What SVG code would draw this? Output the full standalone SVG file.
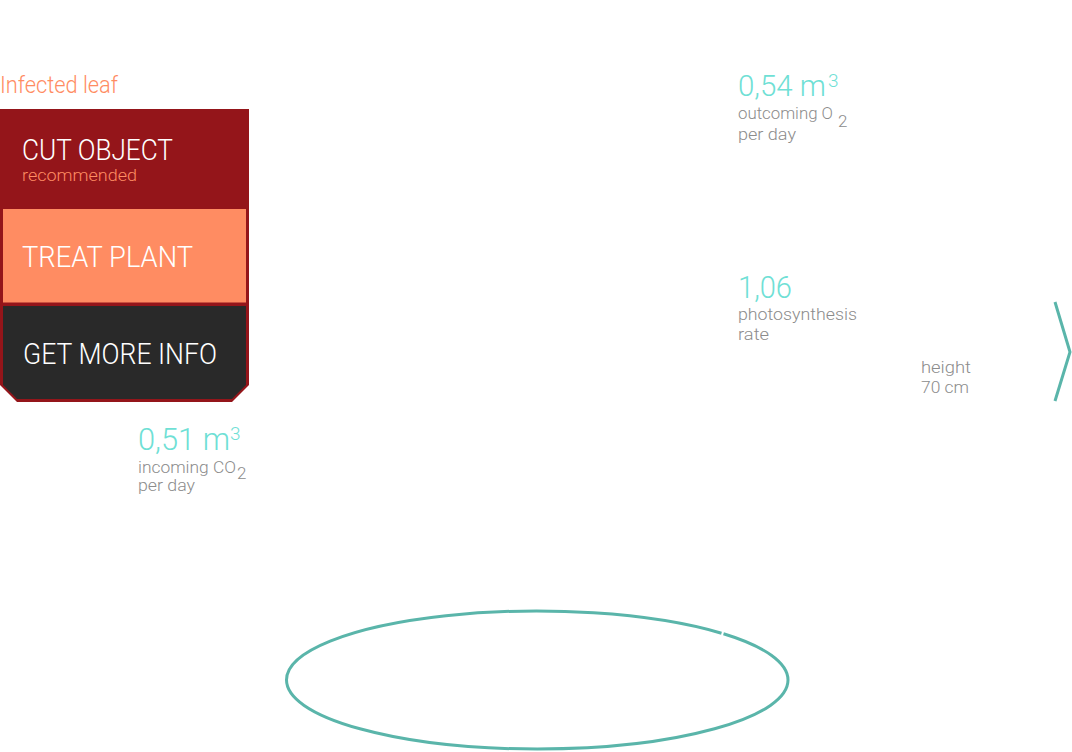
<svg xmlns="http://www.w3.org/2000/svg" width="1072" height="752" viewBox="0 0 1072 752">
<style>
text{font-family:Roboto,"Liberation Sans",sans-serif;font-weight:300}
.big{fill:#6fe0d5}
.lbl{fill:#8c8c8c;font-size:17px}
.btn{fill:#ffffff;font-size:29px}
.teal{fill:none;stroke:#5ab5aa;stroke-width:3}
</style>
<rect width="1072" height="752" fill="#ffffff"/>
<g id="title">
<text x="0" y="93" font-size="23" fill="#ff8c62" textLength="118" lengthAdjust="spacingAndGlyphs">Infected leaf</text>
</g>
<g id="menu">
<path d="M0,109 H249 V385 L232,402 H17 L0,385 Z" fill="#94151a"/>
<rect x="3" y="209" width="243" height="93.5" fill="#ff8c62"/>
<path d="M3,306 H246 V385 L232,399 H17 L3,385 Z" fill="#292929"/>
</g>
<g id="cut-object">
<text class="btn" x="22" y="160" textLength="151" lengthAdjust="spacingAndGlyphs">CUT OBJECT</text>
<text x="22" y="180.5" font-size="16.5" fill="#ff8c62" textLength="115" lengthAdjust="spacingAndGlyphs">recommended</text>
</g>
<g id="treat-plant">
<text class="btn" x="22" y="267" font-size="30" textLength="171" lengthAdjust="spacingAndGlyphs">TREAT PLANT</text>
</g>
<g id="get-more-info">
<text class="btn" x="23" y="364" fill="#ececec" textLength="194" lengthAdjust="spacingAndGlyphs">GET MORE INFO</text>
</g>
<g id="o2-stat">
<text class="big" x="738" y="96" font-size="30" textLength="88" lengthAdjust="spacingAndGlyphs">0,54 m</text>
<text class="big" x="828" y="87" font-size="19">3</text>
<text class="lbl" x="738" y="119" textLength="95" lengthAdjust="spacingAndGlyphs">outcoming O</text>
<text class="lbl" x="838" y="127" font-size="9">2</text>
<text class="lbl" x="738" y="140" textLength="58" lengthAdjust="spacingAndGlyphs">per day</text>
</g>
<g id="photosynthesis-stat">
<text class="big" x="738" y="298" font-size="31" textLength="54" lengthAdjust="spacingAndGlyphs">1,06</text>
<text class="lbl" x="738" y="320" textLength="119" lengthAdjust="spacingAndGlyphs">photosynthesis</text>
<text class="lbl" x="738" y="340" textLength="31" lengthAdjust="spacingAndGlyphs">rate</text>
</g>
<g id="height-stat">
<text class="lbl" x="921" y="373" textLength="50" lengthAdjust="spacingAndGlyphs">height</text>
<text class="lbl" x="921" y="393" textLength="48" lengthAdjust="spacingAndGlyphs">70 cm</text>
</g>
<g id="co2-stat">
<text class="big" x="138" y="450" font-size="31" textLength="92" lengthAdjust="spacingAndGlyphs">0,51 m</text>
<text class="big" x="230" y="440" font-size="19">3</text>
<text class="lbl" x="138" y="473" textLength="98" lengthAdjust="spacingAndGlyphs">incoming CO</text>
<text class="lbl" x="237" y="479" font-size="9">2</text>
<text class="lbl" x="138" y="491" textLength="57" lengthAdjust="spacingAndGlyphs">per day</text>
</g>
<g id="chevron">
<polyline class="teal" points="1055,302 1070,352 1055,401"/>
</g>
<g id="base-ellipse">
<path class="teal" d="M721.5,633.2 A250.75 69 0 0 0 286.5,680 A250.75 69 0 0 0 537.25,749 A250.75 69 0 0 0 788,680 A250.75 69 0 0 0 723.5,633.8"/>
</g>
</svg>
